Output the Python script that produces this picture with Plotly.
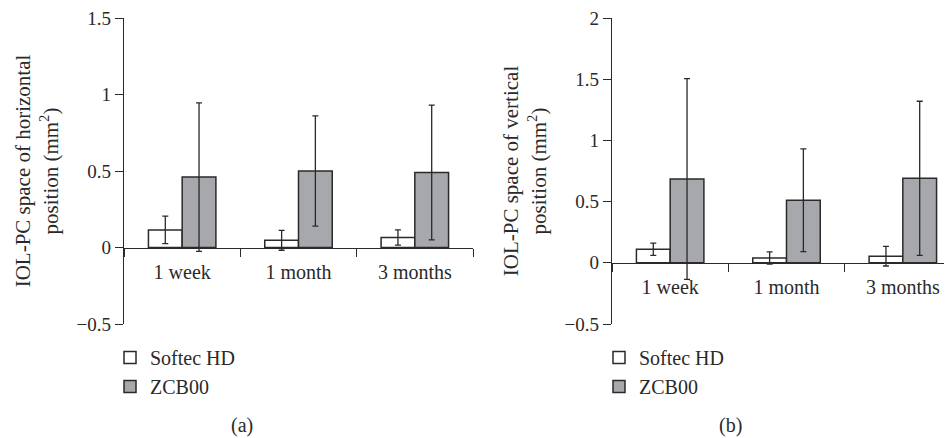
import plotly.graph_objects as go

categories = ["1 week", "1 month", "3 months"]

# Panel (a): horizontal position
softec_h = [0.115, 0.047, 0.065]
softec_h_err = [0.09, 0.065, 0.05]
zcb_h = [0.46, 0.50, 0.49]
zcb_h_err = [0.485, 0.36, 0.44]

# Panel (b): vertical position
softec_v = [0.11, 0.04, 0.054]
softec_v_err = [0.05, 0.05, 0.08]
zcb_v = [0.685, 0.511, 0.69]
zcb_v_err = [0.82, 0.42, 0.63]

series_names = ["Softec HD", "ZCB00"]
yticks_a = [-0.5, 0, 0.5, 1, 1.5]
yticks_b = [-0.5, 0, 0.5, 1, 1.5, 2]

FONT = "Liberation Serif"
INK = "#2a2a2a"
WHITE = "#ffffff"
GRAY = "#a7a8ac"
W, H = 952, 438
OFF = 8  # page body margin offset

def px(p):
    return (p - OFF) / W

def py(p):
    return 1 - (p - OFF) / H

fig = go.Figure()

def add_bars(xa, ya, vals, errs, name, fill, legend):
    fig.add_trace(go.Bar(
        x=categories, y=vals, name=name, xaxis=xa, yaxis=ya, legend=legend,
        marker=dict(color=fill, line=dict(color=INK, width=1.5)),
        error_y=dict(type="data", array=errs, color=INK, thickness=1.3, width=3),
    ))

add_bars("x", "y", softec_h, softec_h_err, series_names[0], WHITE, "legend")
add_bars("x", "y", zcb_h, zcb_h_err, series_names[1], GRAY, "legend")
add_bars("x2", "y2", softec_v, softec_v_err, series_names[0], WHITE, "legend2")
add_bars("x2", "y2", zcb_v, zcb_v_err, series_names[1], GRAY, "legend2")

y_dom = [py(324), py(18)]
xa_dom = [px(124), px(473)]
xb_dom = [px(612), 1.0]

def zero_pos(rng):
    return y_dom[0] + (0 - rng[0]) / (rng[1] - rng[0]) * (y_dom[1] - y_dom[0])

rng_a = [-0.5, 1.5]
rng_b = [-0.5, 2.0]
tickfont = dict(family=FONT, size=19, color=INK)
cat_px = (xa_dom[1] - xa_dom[0]) * W / 3
xb_end = -0.5 + (xb_dom[1] - xb_dom[0]) * W / cat_px

common_x = dict(type="category", tickson="boundaries", ticks="outside", ticklen=8,
                tickcolor=INK, tickwidth=1.3, showline=True, linecolor=INK, linewidth=1.3,
                showgrid=False, zeroline=False, anchor="free", automargin=False,
                ticklabelstandoff=6, ticklabeloverflow="allow",
                tickfont=dict(family=FONT, size=20, color=INK))
common_y = dict(ticks="outside", ticklen=8, tickcolor=INK, tickwidth=1.3, showline=True,
                linecolor=INK, linewidth=1.3, showgrid=False, zeroline=False, automargin=False,
                ticklabeloverflow="allow",
                tickfont=tickfont, domain=y_dom, dtick=0.5)

cap_font = dict(family=FONT, size=20, color=INK)

fig.update_layout(
    width=W, height=H, margin=dict(l=0, r=0, t=0, b=0),
    paper_bgcolor="white", plot_bgcolor="white",
    barmode="group", bargap=0.42, bargroupgap=0,
    font=dict(family=FONT, color=INK),
    xaxis=dict(common_x, domain=xa_dom, range=[-0.5, 2.5], position=zero_pos(rng_a)),
    xaxis2=dict(common_x, domain=xb_dom, range=[-0.5, xb_end], position=zero_pos(rng_b)),
    yaxis=dict(common_y, anchor="x", range=rng_a, tickvals=yticks_a,
               title=dict(text="IOL-PC space of horizontal<br>position (mm<sup>2</sup>)",
                          font=dict(family=FONT, size=21, color=INK), standoff=12)),
    yaxis2=dict(common_y, anchor="x2", range=rng_b, tickvals=yticks_b,
                title=dict(text="IOL-PC space of vertical<br>position (mm<sup>2</sup>)",
                           font=dict(family=FONT, size=21, color=INK), standoff=12)),
    legend=dict(x=px(110), y=py(338), xanchor="left", yanchor="top",
                font=cap_font, bgcolor="rgba(0,0,0,0)"),
    legend2=dict(x=px(599), y=py(338), xanchor="left", yanchor="top",
                 font=cap_font, bgcolor="rgba(0,0,0,0)"),
    annotations=[
        dict(text="(a)", x=px(242), y=py(425), xref="paper", yref="paper",
             xanchor="center", yanchor="middle", showarrow=False, font=cap_font),
        dict(text="(b)", x=px(730), y=py(425), xref="paper", yref="paper",
             xanchor="center", yanchor="middle", showarrow=False, font=cap_font),
    ],
)

fig.write_html("out.html")
